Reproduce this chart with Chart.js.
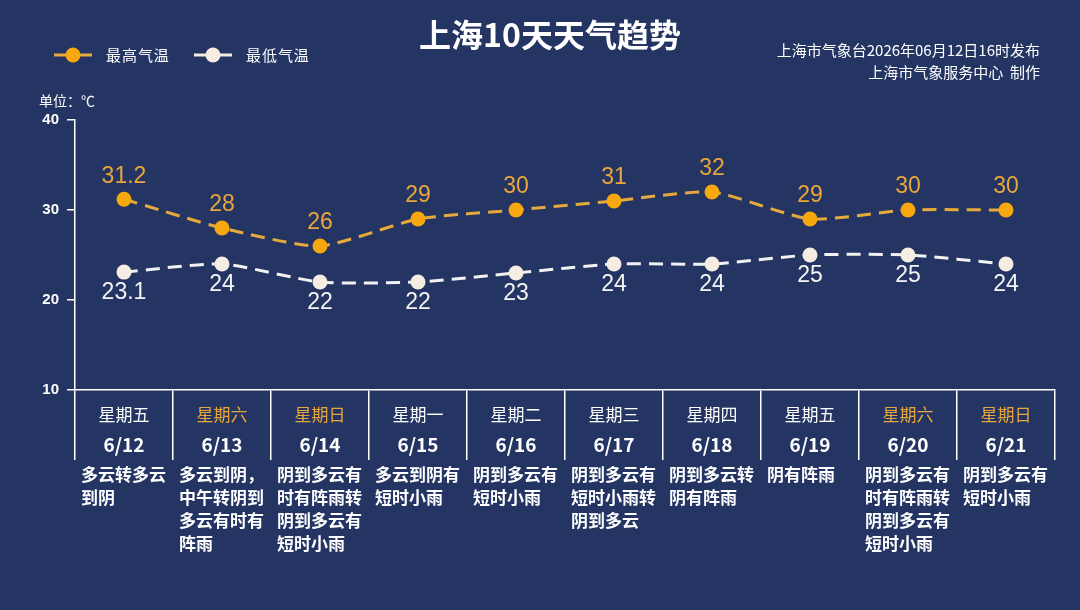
<!DOCTYPE html>
<html>
<head>
<meta charset="utf-8">
<script src="https://cdn.jsdelivr.net/npm/chart.js@4"></script>
<style>
  html, body { margin: 0; padding: 0; background: #243463; }
  #wrap { width: 1080px; height: 610px; position: relative; }
</style>
</head>
<body>
<div id="wrap"><canvas id="chart" width="1080" height="610"></canvas></div>
<script>
// data
const dates = ['6/12', '6/13', '6/14', '6/15', '6/16', '6/17', '6/18', '6/19', '6/20', '6/21'];
const weekdays = ['星期五', '星期六', '星期日', '星期一', '星期二', '星期三', '星期四', '星期五', '星期六', '星期日'];
const weekend = [false, true, true, false, false, false, false, false, true, true];
const weather = [
    ['多云转多云', '到阴'],
    ['多云到阴，', '中午转阴到', '多云有时有', '阵雨'],
    ['阴到多云有', '时有阵雨转', '阴到多云有', '短时小雨'],
    ['多云到阴有', '短时小雨'],
    ['阴到多云有', '短时小雨'],
    ['阴到多云有', '短时小雨转', '阴到多云'],
    ['阴到多云转', '阴有阵雨'],
    ['阴有阵雨'],
    ['阴到多云有', '时有阵雨转', '阴到多云有', '短时小雨'],
    ['阴到多云有', '短时小雨']
];
const highTemps = [31.2, 28, 26, 29, 30, 31, 32, 29, 30, 30];
const lowTemps = [23.1, 24, 22, 22, 23, 24, 24, 25, 25, 24];
const yTicks = [10, 20, 30, 40];

const FONT = '"Noto Sans CJK SC", "Noto Sans", sans-serif';
const NUMFONT = '"Liberation Sans", Arial, sans-serif';
const ORANGE = '#f7a80e';
const ORANGE_LINE = '#e6aa3c';
const CREAM = '#f6ede2';
const WEEKEND = '#e9a63a';

// title, legend, notes, labels and the table under the axis
const decor = {
    id: 'decor',
    afterDatasetsDraw(chart) {
        const ctx = chart.ctx;
        const x = chart.scales.x;
        ctx.save();

        // title
        ctx.fillStyle = '#ffffff';
        ctx.textAlign = 'center';
        ctx.textBaseline = 'middle';
        ctx.font = 'bold 32px ' + FONT;
        ctx.fillText('上海10天天气趋势', 550, 35);

        // legend
        const items = [[ORANGE_LINE, ORANGE, '最高气温', 54], [CREAM, CREAM, '最低气温', 194]];
        items.forEach(([lc, pc, txt, lx]) => {
            ctx.strokeStyle = lc;
            ctx.lineWidth = 3;
            ctx.beginPath();
            ctx.moveTo(lx, 55);
            ctx.lineTo(lx + 38, 55);
            ctx.stroke();
            ctx.fillStyle = pc;
            ctx.beginPath();
            ctx.arc(lx + 19, 55, 7.5, 0, Math.PI * 2);
            ctx.fill();
            ctx.fillStyle = '#ffffff';
            ctx.textAlign = 'left';
            ctx.font = '15px ' + FONT;
            ctx.fillText(txt.split('').join('\u200A'), lx + 52, 55);
        });

        // right notes
        ctx.textAlign = 'right';
        ctx.font = '15px ' + FONT;
        ctx.fillText('上海市气象台2026年06月12日16时发布', 1040, 50);
        ctx.fillText('上海市气象服务中心  制作', 1040, 72);

        // unit
        ctx.textAlign = 'left';
        ctx.font = '14px ' + FONT;
        ctx.fillText('单位：℃', 39, 101);

        // point labels
        ctx.textAlign = 'center';
        ctx.font = '23px ' + NUMFONT;
        const hi = chart.getDatasetMeta(0).data;
        const lo = chart.getDatasetMeta(1).data;
        hi.forEach((p, i) => {
            ctx.fillStyle = WEEKEND;
            ctx.fillText(String(highTemps[i]), p.x, p.y - 23);
        });
        lo.forEach((p, i) => {
            ctx.fillStyle = '#f4f4f4';
            ctx.fillText(String(lowTemps[i]), p.x, p.y + 21);
        });

        // weekday and date rows
        const bottom = chart.chartArea.bottom;
        dates.forEach((d, i) => {
            const cx = x.getPixelForValue(i);
            ctx.textAlign = 'center';
            ctx.fillStyle = weekend[i] ? WEEKEND : '#ffffff';
            ctx.font = '17px ' + FONT;
            ctx.fillText(weekdays[i], cx, bottom + 25);
            ctx.fillStyle = '#ffffff';
            ctx.font = 'bold 19px ' + FONT;
            ctx.fillText(d, cx, bottom + 55);

            ctx.textAlign = 'left';
            ctx.font = 'bold 17px ' + FONT;
            const left = cx - 43;
            weather[i].forEach((line, k) => {
                ctx.fillText(line, left, bottom + 85 + k * 23);
            });
        });
        ctx.restore();
    }
};

new Chart(document.getElementById('chart'), {
    type: 'line',
    data: {
        labels: dates,
        datasets: [{
            label: '最高气温',
            data: highTemps,
            borderColor: ORANGE_LINE,
            backgroundColor: ORANGE,
            pointBackgroundColor: ORANGE,
            pointBorderWidth: 0,
            pointRadius: 7.5,
            borderWidth: 3,
            borderDash: [14, 8],
            tension: 0.2
        }, {
            label: '最低气温',
            data: lowTemps,
            borderColor: '#f2f2f2',
            backgroundColor: CREAM,
            pointBackgroundColor: CREAM,
            pointBorderWidth: 0,
            pointRadius: 7.5,
            borderWidth: 3,
            borderDash: [14, 8],
            tension: 0.2
        }]
    },
    options: {
        responsive: false,
        animation: false,
        layout: { padding: { top: 120, right: 25, left: 0, bottom: 0 } },
        plugins: {
            legend: { display: false },
            tooltip: { enabled: false }
        },
        scales: {
            x: {
                offset: true,
                grid: {
                    offset: true,
                    drawOnChartArea: false,
                    color: '#ffffff',
                    lineWidth: 1.5,
                    tickLength: 70
                },
                border: { color: '#ffffff', width: 1.5 },
                ticks: { display: false },
                afterFit(s) { s.height = 220; }
            },
            y: {
                min: 10,
                max: 40,
                afterBuildTicks(s) { s.ticks = yTicks.map(v => ({ value: v })); },
                grid: {
                    drawOnChartArea: false,
                    color: '#ffffff',
                    lineWidth: 1.5,
                    tickLength: 8
                },
                border: { color: '#ffffff', width: 1.5 },
                ticks: {
                    color: '#ffffff',
                    padding: 8,
                    font: { family: NUMFONT, size: 15, weight: 'bold' }
                },
                afterFit(s) { s.width = 75; }
            }
        }
    },
    plugins: [decor]
});
</script>
</body>
</html>
